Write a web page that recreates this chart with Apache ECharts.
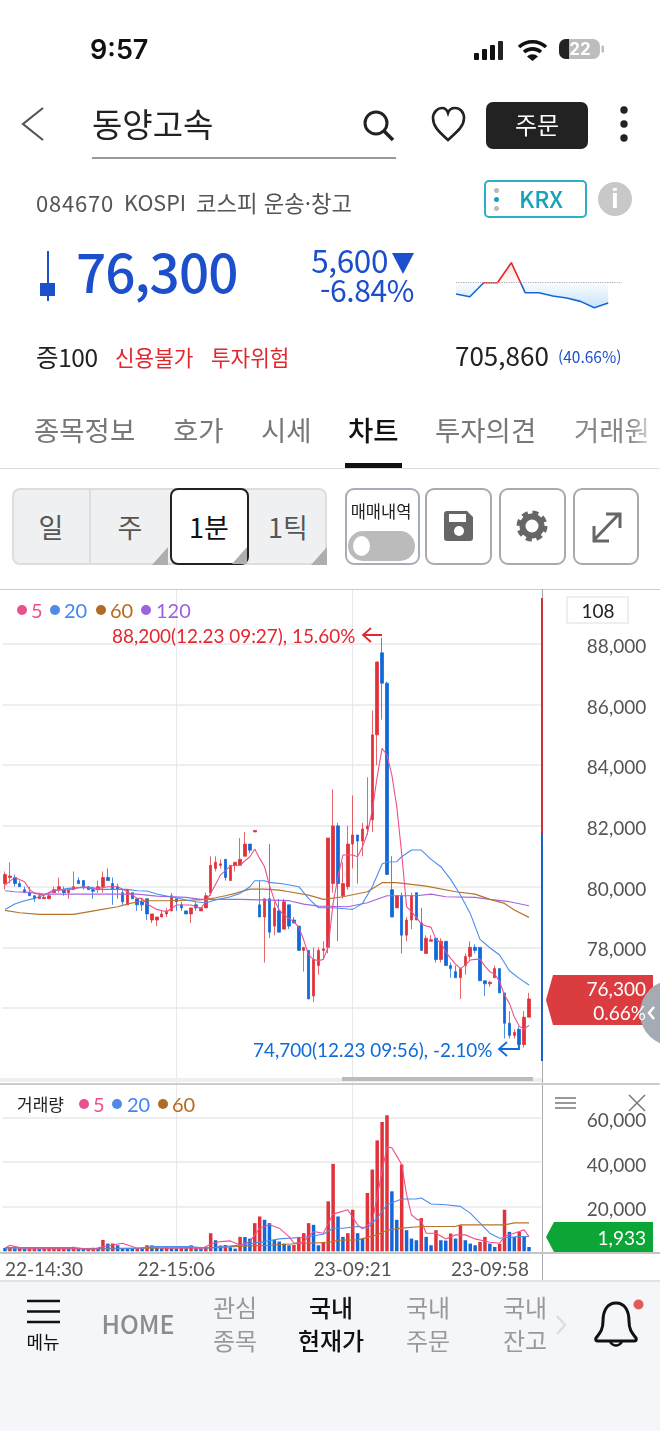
<!DOCTYPE html>
<html lang="ko">
<head>
<meta charset="utf-8">
<title>동양고속</title>
<script src="https://cdn.jsdelivr.net/npm/echarts@6/dist/echarts.min.js"></script>
<style>
html, body { margin: 0; padding: 0; background: #fff; }
#page { position: relative; width: 660px; height: 1431px; overflow: hidden; font-family: "Noto Sans CJK KR", sans-serif; }
#chart { position: absolute; left: 0; top: 0; width: 660px; height: 1431px; }
.t { position: absolute; white-space: nowrap; line-height: 1; transform: translateY(-50%); }
.r { transform: translate(-100%, -50%); }
.c { transform: translate(-50%, -50%); }
.n { font-family: Lato, sans-serif; }
.b { position: absolute; box-sizing: border-box; }
.btn { position: absolute; box-sizing: border-box; top: 488px; height: 77px; border: 2px solid #aaa; border-radius: 9px; background: #fff; }
svg { position: absolute; overflow: visible; }
.nav { font-size: 24px; color: #999; }
.dot { position: absolute; border-radius: 50%; width: 10px; height: 10px; transform: translate(-50%, -50%); }
</style>
</head>
<body>
<div id="page">
  <div class="b" style="left:0;top:1281px;width:660px;height:150px;background:#f5f6f9"></div>
  <div id="chart"></div>

  <!-- 상태바 -->
  <div class="t" style="left:90px;top:49px;font:600 27px Inter,sans-serif;color:#111">9:57</div>
  <svg style="left:0;top:0" width="660" height="80">
    <rect x="474" y="53" width="5" height="7" rx="1" fill="#111"/><rect x="482" y="49" width="5" height="11" rx="1" fill="#111"/>
    <rect x="490" y="45" width="5" height="15" rx="1" fill="#111"/><rect x="498" y="41" width="5" height="19" rx="1" fill="#222"/>
    <path d="M519 47a20 20 0 0 1 27 0M524 52a13 13 0 0 1 17 0" fill="none" stroke="#111" stroke-width="3.6"/>
    <path d="M527 56.500a8 8 0 0 1 11 0l-5.500 4.500z" fill="#111"/>
    <rect x="559" y="39" width="41" height="20" rx="7" fill="#bdbdbd"/><path d="M566 39h3v20h-3a7 7 0 0 1-7-7v-6a7 7 0 0 1 7-7z" fill="#222"/>
    <rect x="601.500" y="45.500" width="2.500" height="7" rx="1" fill="#bdbdbd"/>
    <text x="580" y="55" text-anchor="middle" font-family="Inter,sans-serif" font-weight="700" font-size="17" fill="#fff">22</text>
  </svg>

  <!-- 헤더 -->
  <svg style="left:0;top:0" width="660" height="170">
    <path d="M43 108L23 124L43 140" fill="none" stroke="#555" stroke-width="2.200"/>
    <circle cx="376" cy="123" r="11" fill="none" stroke="#222" stroke-width="3"/><path d="M384 131l9 9" stroke="#222" stroke-width="3.500"/>
    <path d="M448 140C438 131 433 126 433 118C433 112 438 108 442 108C445 108 447 110 448 113C449 110 451 108 455 108C460 108 464 112 464 118C464 126 458 131 448 140Z" fill="none" stroke="#222" stroke-width="2.600"/>
    <circle cx="624" cy="110" r="3.700" fill="#222"/><circle cx="624" cy="124" r="3.700" fill="#222"/><circle cx="624" cy="138" r="3.700" fill="#222"/>
  </svg>
  <div class="t" style="left:92px;top:123px;font-size:33px;color:#222">동양고속</div>
  <div class="b" style="left:92px;top:157px;width:304px;height:2px;background:#999"></div>
  <div class="b" style="left:486px;top:102px;width:102px;height:47px;background:#222;border-radius:7px"></div>
  <div class="t c" style="left:537px;top:124px;font-size:24px;color:#fff">주문</div>

  <!-- 종목 요약 -->
  <div class="t" style="left:36px;top:202px;font-size:22px;color:#555;letter-spacing:.8px">084670</div>
  <div class="t" style="left:124px;top:202px;font-size:21.500px;color:#555">KOSPI</div>
  <div class="t" style="left:196px;top:202px;font-size:22.300px;color:#555">코스피 운송·창고</div>
  <div class="b" style="left:484px;top:180px;width:103px;height:38px;border:2px solid #2cb0c4;border-radius:5px"></div>
  <div class="b" style="left:494px;top:188px;width:5px;height:5px;border-radius:50%;background:#bbb"></div>
  <div class="b" style="left:494px;top:197px;width:5px;height:5px;border-radius:50%;background:#17a2b8"></div>
  <div class="b" style="left:494px;top:206px;width:5px;height:5px;border-radius:50%;background:#bbb"></div>
  <div class="t c" style="left:541px;top:198px;font-size:23px;font-weight:500;color:#17a2b8">KRX</div>
  <div class="b" style="left:598px;top:182px;width:34px;height:34px;border-radius:50%;background:#c8c8c8"></div>
  <div class="t c" style="left:615px;top:199px;font:700 28px 'Liberation Sans',sans-serif;color:#fff">i</div>

  <div class="b" style="left:46.500px;top:251px;width:2px;height:50px;background:#1b4fcb"></div>
  <div class="b" style="left:40px;top:283px;width:15px;height:13px;background:#1b4fcb"></div>
  <div class="t" style="left:76px;top:270px;font-size:53px;font-weight:500;color:#1b4fcb;letter-spacing:-.9px">76,300</div>
  <div class="t r" style="left:388px;top:260px;font-size:31.500px;color:#1b4fcb;letter-spacing:-.4px">5,600</div>
  <svg style="left:0;top:0" width="660" height="300"><path d="M392 253H414L403 274Z" fill="#1b4fcb"/></svg>
  <div class="t r" style="left:414px;top:289px;font-size:30px;color:#1b4fcb;letter-spacing:-.4px">-6.84%</div>

  <div class="t" style="left:36px;top:357px;font-size:24.500px;color:#222;letter-spacing:-.4px">증100</div>
  <div class="t" style="left:115px;top:357px;font-size:21.300px;color:#e0282e">신용불가</div>
  <div class="t" style="left:211px;top:357px;font-size:21.300px;color:#e0282e">투자위험</div>
  <div class="t" style="left:455px;top:355px;font-size:26px;color:#222">705,860</div>
  <div class="t" style="left:558px;top:357px;font-size:15.500px;color:#1b4fcb">(40.66%)</div>

  <!-- 탭 -->
  <div class="t" style="left:34px;top:430px;font-size:27.500px;color:#777">종목정보</div>
  <div class="t" style="left:173px;top:430px;font-size:27.500px;color:#777">호가</div>
  <div class="t" style="left:261px;top:430px;font-size:27.500px;color:#777">시세</div>
  <div class="t" style="left:348px;top:430px;font-size:27.500px;color:#111;font-weight:500">차트</div>
  <div class="t" style="left:435px;top:430px;font-size:27.500px;color:#777">투자의견</div>
  <div class="t" style="left:574px;top:430px;font-size:27.500px;color:#888">거래원</div>
  <div class="b" style="left:630px;top:410px;width:30px;height:40px;background:linear-gradient(90deg,rgba(255,255,255,0),#fff)"></div>
  <div class="b" style="left:345px;top:463px;width:57px;height:5px;background:#111"></div>
  <div class="b" style="left:0;top:468px;width:660px;height:1px;background:#ddd"></div>

  <!-- 주기 버튼 -->
  <div class="b" style="left:12px;top:488px;width:315px;height:77px;background:#eef0f2;border:2px solid #ddd;border-radius:8px"></div>
  <div class="b" style="left:89px;top:489px;width:2px;height:75px;background:#ddd"></div>
  <div class="t c" style="left:51px;top:526px;font-size:27px;color:#555">일</div>
  <div class="t c" style="left:130px;top:526px;font-size:27px;color:#555">주</div>
  <div class="b" style="left:170px;top:488px;width:79px;height:77px;background:#fff;border:2px solid #222;border-radius:8px"></div>
  <div class="t c" style="left:209px;top:526px;font-size:27px;color:#111">1분</div>
  <div class="t c" style="left:288px;top:526px;font-size:27px;color:#555">1틱</div>
  <svg style="left:0;top:0" width="660" height="570">
    <path d="M168 547V565H152ZM247 547V564H232ZM327 547V565H311Z" fill="#aeaeae"/>
  </svg>
  <div class="btn" style="left:345px;width:75px;border-color:#a4adb8"></div>
  <div class="t c" style="left:381px;top:511px;font-size:16.500px;color:#222">매매내역</div>
  <div class="b" style="left:348px;top:531px;width:67px;height:30px;border-radius:15px;background:#bbb"></div>
  <div class="b" style="left:353px;top:536px;width:17px;height:20px;border-radius:50%;background:#fff"></div>
  <div class="btn" style="left:425px;width:67px"></div>
  <div class="btn" style="left:499px;width:67px"></div>
  <div class="btn" style="left:573px;width:66px"></div>
  <svg style="left:0;top:0" width="660" height="570">
    <path d="M447 511H467L473 517V538Q473 541 470 541H447Q444 541 444 538V514Q444 511 447 511Z" fill="#666"/>
    <rect x="449" y="514" width="17" height="8" fill="#fff"/><circle cx="459" cy="531" r="5" fill="#fff"/>
    <circle cx="532" cy="526" r="9.500" fill="none" stroke="#666" stroke-width="6"/>
    <circle cx="532" cy="526" r="13.500" fill="none" stroke="#666" stroke-width="4" stroke-dasharray="6 4.600"/>
    <path d="M594 540L619 514M606 514H620V528M594 526V541H609" fill="none" stroke="#666" stroke-width="3"/>
  </svg>

  <!-- 차트 틀 -->
  <div class="b" style="left:0;top:575px;width:660px;height:14px;background:#fff"></div>
  <div class="b" style="left:0;top:589px;width:660px;height:1px;background:#ccc"></div>
  <div class="b" style="left:175.700px;top:1068px;width:1.200px;height:6px;background:#e8e8e8"></div>
  <div class="b" style="left:352px;top:1068px;width:1.200px;height:6px;background:#e8e8e8"></div>
  <div class="b" style="left:542px;top:589px;width:1px;height:691px;background:#aaa"></div>
  <div class="b" style="left:541px;top:598px;width:2px;height:235px;background:#c9353a"></div>
  <div class="b" style="left:541px;top:833px;width:2px;height:228px;background:#1b5fc8"></div>
  <div class="b" style="left:566px;top:596px;width:63px;height:28px;border:2px solid #eee"></div>
  <div class="t c n" style="left:598px;top:610px;font-size:19px;color:#222">108</div>

  <div class="dot" style="left:22px;top:610px;background:#e8518f"></div><div class="t n" style="left:31px;top:610px;font-size:20px;color:#ee4f8e">5</div>
  <div class="dot" style="left:55px;top:610px;background:#4f8ae8"></div><div class="t n" style="left:64px;top:610px;font-size:20px;color:#4285f0">20</div>
  <div class="dot" style="left:101px;top:610px;background:#b06a28"></div><div class="t n" style="left:110px;top:610px;font-size:20px;color:#b8691f">60</div>
  <div class="dot" style="left:146px;top:610px;background:#9b64dc"></div><div class="t n" style="left:156px;top:610px;font-size:20px;color:#9b5fe0">120</div>

  <div class="t n" style="left:112px;top:636px;font-size:18.900px;color:#e0282e">88,200(12.23 09:27), 15.60%</div>
  <svg style="left:0;top:0" width="660" height="1100">
    <path d="M382 635H363M371 628L363 635L371 642" fill="none" stroke="#e0282e" stroke-width="1.800"/>
    <path d="M519 1040V1049H499M507 1042L499 1049L507 1056" fill="none" stroke="#0f6bd8" stroke-width="1.800"/>
  </svg>
  <div class="t n" style="left:253px;top:1050px;font-size:18.900px;color:#0f6bd8">74,700(12.23 09:56), -2.10%</div>

  <div class="b" style="left:0;top:1078px;width:542px;height:4px;background:#eee"></div>
  <div class="b" style="left:342px;top:1077px;width:191px;height:4px;background:#bbb"></div>
  <div class="b" style="left:0;top:1083px;width:660px;height:2px;background:#ccc"></div>

  <svg style="left:0;top:0" width="660" height="1100">
    <path d="M546 1000L553 975H653V1025H553Z" fill="#db3c40"/>
    <circle cx="673" cy="1013" r="33" fill="#a5abb3"/>
    <path d="M654 1007L649 1013L654 1019" fill="none" stroke="#fff" stroke-width="2.500"/>
  </svg>
  <div class="t r n" style="left:646px;top:988px;font-size:19px;color:#fff">76,300</div>
  <div class="t r n" style="left:646px;top:1012px;font-size:19px;color:#fff">0.66%</div>

  <!-- 거래량 -->
  <div class="t" style="left:17px;top:1103px;font-size:17px;color:#222">거래량</div>
  <div class="dot" style="left:84px;top:1104px;background:#e8518f"></div><div class="t n" style="left:93px;top:1104px;font-size:20px;color:#ee4f8e">5</div>
  <div class="dot" style="left:117px;top:1104px;background:#4f8ae8"></div><div class="t n" style="left:127px;top:1104px;font-size:20px;color:#4285f0">20</div>
  <div class="dot" style="left:163px;top:1104px;background:#b06a28"></div><div class="t n" style="left:172px;top:1104px;font-size:20px;color:#b8691f">60</div>
  <svg style="left:0;top:0" width="660" height="1120">
    <path d="M555 1098H576M555 1103H576M555 1108H576" stroke="#777" stroke-width="1.500"/>
    <path d="M629 1095L645 1111M645 1095L629 1111" stroke="#777" stroke-width="1.500"/>
  </svg>
  <svg style="left:0;top:0" width="660" height="1260">
    <path d="M546 1237L554 1222H653V1252H554Z" fill="#0ca636"/>
  </svg>
  <div class="t r n" style="left:646px;top:1237px;font-size:19px;color:#fff">1,933</div>
  <div class="b" style="left:0;top:1252px;width:660px;height:2px;background:#c4c4c4"></div>
  <div class="b" style="left:0;top:1280px;width:660px;height:2px;background:#e2e2e2"></div>

  <!-- 하단 메뉴 -->
  <svg style="left:0;top:0" width="660" height="1431">
    <path d="M27 1301H60M27 1311.500H60M27 1322H60" stroke="#111" stroke-width="2.400"/>
    <path d="M616 1303C607 1303 603 1311 603 1321C603 1330 600 1333 596 1338C595 1340 596 1341 598 1341H634C636 1341 637 1340 636 1338C632 1333 629 1330 629 1321C629 1311 625 1303 616 1303Z" fill="none" stroke="#111" stroke-width="3"/>
    <path d="M610 1342Q616 1349 622 1342" fill="none" stroke="#111" stroke-width="2.500"/>
    <circle cx="638.500" cy="1304.500" r="5" fill="#e05a5a"/>
    <path d="M557 1316L565 1325L557 1334" fill="none" stroke="#ddd" stroke-width="2.500"/>
  </svg>
  <div class="t c" style="left:43px;top:1341px;font-size:18px;color:#111">메뉴</div>
  <div class="t c" style="left:138px;top:1323px;font-size:25px;font-weight:500;color:#8c8c8c">HOME</div>
  <div class="t c nav" style="left:235px;top:1307px">관심</div><div class="t c nav" style="left:235px;top:1340px">종목</div>
  <div class="t c nav" style="left:331px;top:1307px;color:#111;font-weight:500">국내</div><div class="t c nav" style="left:331px;top:1340px;color:#111;font-weight:500">현재가</div>
  <div class="t c nav" style="left:428px;top:1307px">국내</div><div class="t c nav" style="left:428px;top:1340px">주문</div>
  <div class="t c nav" style="left:525px;top:1307px">국내</div><div class="t c nav" style="left:525px;top:1340px">잔고</div>
</div>

<script>
// 캔들 (1분봉 108개)
const opens = [80100,80300,80300,80100,79900,79800,79700,79600,79600,79600,79800,79900,79900,79800,79900,80200,80200,80000,79900,79900,80000,80300,80100,80000,79800,79400,79800,79600,79500,79600,78900,78900,79000,79100,79200,79600,79400,79200,79100,79400,79200,79300,79800,80600,80700,80900,80200,80700,80700,81000,81400,81800,79400,79000,79600,78700,79200,78600,79400,78900,78700,77900,77900,76400,77400,77900,78000,80100,82000,79700,80000,81400,81700,81500,81900,82200,85000,87700,86700,79900,79300,79700,78400,78900,79800,78800,77800,78200,78300,77600,78200,77400,77200,77000,77400,77700,78000,78000,76900,76800,77000,77300,76500,75500,75100,75300,74800,75700];
const closes = [80400,80350,80100,80000,79800,79700,79600,79700,79650,79700,79900,80000,79800,79900,80000,80100,80000,79900,79850,80000,80300,80200,79900,79900,79500,79900,79600,79400,79400,79100,79100,79000,79100,79200,79700,79500,79300,79100,79300,79300,79300,79700,80700,80800,80750,80300,80700,80800,80900,81400,81200,81850,79000,79600,78500,79300,78500,79500,78700,78800,77900,78000,76300,77600,77900,77950,81600,82000,80100,80100,81400,81700,81500,81900,82000,85000,87400,86700,80400,79000,79700,78400,78900,79700,78900,77900,78300,78250,77600,78200,77400,77300,77000,77300,77700,78000,77900,76900,76800,76850,77300,76500,75500,75100,75200,74800,75700,76300];
const highs = [80500,80800,80400,80200,80000,80000,79700,79800,79700,79800,80000,80300,80000,79900,80500,80300,80200,80000,80000,80200,80500,80600,80300,80100,79900,79900,79800,79600,79600,79600,79100,79000,79200,79300,79800,79600,79500,79200,79300,79500,79300,79800,81000,81000,80900,80900,80700,80800,81600,81800,81400,81850,80200,79600,81400,79500,79600,79600,79400,79000,78700,78000,77900,78000,78000,78200,81600,83200,82100,80800,82000,83000,81700,82100,83600,85800,87400,88200,86750,81000,79700,79800,79000,79800,79800,79300,78400,78400,78300,78300,78200,77500,77400,77300,77800,78200,78100,78000,76900,76900,77400,77300,76500,75900,75300,75400,75900,76500];
const lows = [79900,80100,80000,80000,79800,79700,79500,79600,79600,79600,79800,79800,79700,79600,79900,80100,79900,79900,79600,79800,79800,80200,79400,79600,79400,79400,79600,79200,79200,78900,78800,78700,79000,79000,79200,79200,79200,79100,78800,79200,79200,79300,79700,80500,80600,80200,80200,80500,80700,81000,81100,81800,79000,77500,78300,78400,78500,78600,78600,78800,77900,77200,76300,76200,77100,77600,77800,79800,78200,79600,79900,80600,80100,81000,81700,81800,84000,85500,80400,79000,79300,77800,78200,78600,78900,77900,77800,78200,77500,77500,77400,77000,77000,76300,77100,77600,77800,76900,76400,76700,77000,76500,75000,75000,75000,74700,74700,75700];

// 거래량
const volumes = [1500,1600,1400,1500,1300,1400,1450,1300,1400,1450,1500,1550,1600,1400,2000,1500,1400,1500,1550,1200,5100,3450,3500,2700,1300,1250,1200,1400,1250,2700,2650,1500,1400,1700,1400,1300,1500,1350,2700,1400,1300,1800,8100,4950,2600,2850,1800,1200,6450,6400,5700,12600,15600,14100,12600,5100,4350,3450,2700,2850,6450,8100,12600,11850,2700,4200,22350,39150,15600,6450,8100,18600,8100,5700,26100,36600,49650,57900,60900,26850,14100,38850,9450,5700,4950,14850,6450,2700,9450,4950,4800,7950,5700,11700,4950,3450,2700,4200,6450,3450,1950,3300,18600,8700,6450,8700,6450,1933];

// 가격 이동평균 [봉 번호, 값]
const ma5Points = [[0,80051],[2,80304],[4,80161],[5,79909],[6,79777],[8,79722],[10,79887],[13,79887],[16,79996],[19,79941],[21,79996],[23,79996],[25,79832],[27,79612],[28,79612],[29,79425],[31,79250],[33,79173],[35,79393],[38,79393],[40,79283],[41,79502],[42,79777],[44,80381],[46,80677],[48,80710],[50,80985],[51,81237],[52,80930],[53,80655],[54,80051],[55,79557],[56,79228],[57,79063],[58,78954],[59,78844],[60,78657],[61,78240],[62,77746],[63,77603],[64,77559],[65,77603],[66,78020],[67,79448],[68,80326],[69,81040],[70,81040],[71,81040],[72,80985],[73,81315],[74,81754],[75,82522],[76,83620],[77,84554],[78,84334],[79,83675],[80,82632],[81,81095],[82,79338],[83,79173],[84,78987],[85,78767],[86,78701],[87,78657],[88,78262],[89,78152],[90,77856],[91,77636],[92,77449],[93,77307],[94,77416],[95,77581],[96,77603],[97,77603],[98,77384],[99,77197],[100,77120],[101,76868],[102,76428],[103,76154],[104,75715],[105,75407],[106,75297],[107,75440]];
const ma20Points = [[0,79250],[2,79425],[4,79535],[6,79612],[8,79722],[10,79865],[13,79941],[16,79974],[19,79909],[22,79909],[25,79909],[27,79865],[29,79854],[31,79755],[33,79689],[35,79634],[37,79557],[39,79502],[41,79469],[43,79557],[46,79667],[48,79777],[50,79996],[51,80194],[53,80194],[54,80139],[57,80085],[60,79997],[62,79602],[64,79305],[67,79305],[70,79261],[71,79250],[73,79448],[75,79997],[77,80743],[78,80809],[80,80820],[81,80985],[83,81205],[85,81205],[87,80897],[89,80656],[91,80238],[93,79722],[95,79118],[97,78262],[99,77987],[101,77746],[103,77230],[105,76977],[107,76758]];
const ma60Points = [[0,79217],[3,79140],[7,79085],[14,79085],[19,79228],[23,79338],[25,79425],[28,79535],[33,79535],[38,79557],[41,79579],[43,79634],[45,79700],[47,79777],[50,79920],[53,79920],[56,79887],[58,79832],[62,79722],[65,79580],[69,79667],[74,79832],[77,80129],[80,80129],[86,80019],[92,79832],[96,79755],[99,79580],[102,79448],[104,79228],[107,78987]];
const ma120Points = [[0,79865],[2,79832],[5,79810],[8,79755],[13,79755],[22,79755],[27,79755],[31,79689],[37,79645],[40,79579],[43,79579],[48,79579],[54,79557],[58,79536],[61,79426],[64,79360],[70,79338],[74,79470],[78,79700],[84,79700],[87,79755],[90,79667],[96,79645],[99,79580],[103,79503],[107,79371]];

// 거래량 이동평균 [봉 번호, 값]
const volMa5Points = [[0,1350],[1,2700],[3,1650],[5,1350],[14,1350],[18,900],[20,2100],[22,2850],[24,3600],[27,1350],[29,1800],[33,1350],[38,1650],[40,1050],[42,3150],[44,4350],[46,4650],[48,2850],[50,4350],[52,10350],[54,11850],[56,10350],[58,6600],[59,3600],[61,4350],[63,8850],[65,8100],[67,16650],[70,18600],[72,11850],[73,10050],[75,13350],[77,35850],[78,46650],[79,46350],[80,42600],[81,38850],[82,25350],[83,16350],[84,14400],[85,13650],[86,8100],[88,8100],[90,5550],[92,7350],[94,7350],[96,5550],[99,4050],[101,3600],[102,6600],[105,8850],[106,9600],[107,6600]];
const volMa20Points = [[0,1050],[20,1050],[28,1350],[30,2100],[38,2100],[41,1350],[45,2100],[48,2850],[53,4350],[56,5550],[61,6300],[65,7650],[67,10350],[69,10350],[72,11100],[74,10350],[76,14850],[78,20850],[81,23400],[84,23400],[85,23850],[87,21150],[90,20850],[93,20100],[95,17100],[97,12600],[99,8100],[101,5850],[105,6600],[107,6600]];
const volMa60Points = [[0,1650],[14,1650],[16,1200],[42,1650],[50,2400],[54,2700],[61,3600],[66,3900],[68,4950],[72,5100],[76,7350],[78,9450],[81,10350],[85,11100],[92,11100],[93,11850],[102,11850],[104,12750],[107,12750]];

// 현재가 미니 차트
const sparkValues = [80200,79800,81900,81900,84900,80400,80400,79900,79600,79100,78150,78850];
const sparkBase = 81900;

// 축 라벨
const slotCount = 110;
const tickSlots = [0, 35, 71, 107];
const tickLabels = ["22-14:30", "22-15:06", "23-09:21", "23-09:58"];
const gridSlots = [35, 71];

const RED = "#e03238";
const BLUE = "#1268d8";

const categories = new Array(slotCount).fill("");
tickSlots.forEach((slot, k) => { categories[slot] = tickLabels[k]; });
const candleData = opens.map((o, i) => [o, closes[i], lows[i], highs[i]]);
const barData = volumes.map((v, i) => ({
    value: v,
    itemStyle: { color: i > 0 && v >= volumes[i - 1] ? RED : BLUE }
}));

function isGridSlot(index) {
    return gridSlots.indexOf(index) >= 0;
}

function maLine(name, data, color, xi, width) {
    return {
        name: name, type: "line", xAxisIndex: xi, yAxisIndex: xi, data: data,
        showSymbol: false, symbol: "none", smooth: false, clip: false,
        lineStyle: { color: color, width: width }, z: 5
    };
}

// 눈금 라벨을 선보다 살짝 아래에 그린다
function priceLabel(topPad) {
    return {
        margin: 105, align: "right", showMinLabel: false, showMaxLabel: false,
        formatter: (v) => "{a|" + v.toLocaleString("en-US") + "}",
        rich: { a: { padding: [topPad, 0, 0, 0], color: "#555", fontFamily: "Lato", fontSize: 19 } }
    };
}

const sparkStop = 32.7 / 60;
const chart = echarts.init(document.getElementById("chart"), null, { renderer: "canvas" });
chart.setOption({
    animation: false,
    backgroundColor: "transparent",
    grid: [
        { left: 2.55, width: 538.7, top: 583, height: 485.8 },
        { left: 2.55, width: 538.7, top: 1072.6, height: 178.7 },
        { left: 456, width: 166, top: 250, height: 60 }
    ],
    xAxis: [
        {
            type: "category", gridIndex: 0, data: categories,
            axisLine: { show: false }, axisTick: { show: false, alignWithLabel: true }, axisLabel: { show: false },
            splitLine: { show: true, alignWithLabel: true, interval: isGridSlot, lineStyle: { color: "#e8e8e8", width: 1.2 } }
        },
        {
            type: "category", gridIndex: 1, data: categories,
            axisLine: { show: false }, axisTick: { show: false, alignWithLabel: true },
            axisLabel: {
                show: true, interval: (index) => categories[index] !== "", margin: 9,
                alignMinLabel: "left", alignMaxLabel: "right",
                color: "#555", fontFamily: "Lato", fontSize: 19
            },
            splitLine: { show: true, alignWithLabel: true, interval: isGridSlot, lineStyle: { color: "#e8e8e8", width: 1.2 } }
        },
        { type: "category", gridIndex: 2, data: sparkValues.map((v, i) => i).concat([""]), boundaryGap: false, show: false }
    ],
    yAxis: [
        {
            type: "value", gridIndex: 0, position: "right", min: 74000, max: 90000, interval: 2000,
            axisLine: { show: false }, axisTick: { show: false },
            axisLabel: priceLabel(6),
            splitLine: { show: true, showMinLine: false, showMaxLine: false, lineStyle: { color: "#e8e8e8", width: 1.5 } }
        },
        {
            type: "value", gridIndex: 1, position: "right", min: 0, max: 80000, interval: 20000,
            axisLine: { show: false }, axisTick: { show: false },
            axisLabel: priceLabel(7),
            splitLine: { show: true, showMinLine: false, showMaxLine: false, lineStyle: { color: "#e8e8e8", width: 1.5 } }
        },
        { type: "value", gridIndex: 2, min: 77805, max: 86805, show: false }
    ],
    series: [
        {
            name: "캔들", type: "candlestick", xAxisIndex: 0, yAxisIndex: 0, data: candleData,
            barWidth: 3, z: 3,
            itemStyle: {
                color: RED, color0: BLUE,
                borderColor: "rgba(224,50,56,0.75)", borderColor0: "rgba(18,104,216,0.75)", borderWidth: 1
            }
        },
        maLine("120", ma120Points, "#a566e0", 0, 1.2),
        maLine("60", ma60Points, "#b8732c", 0, 1.2),
        maLine("20", ma20Points, "#4a8cf0", 0, 1.1),
        maLine("5", ma5Points, "#ee4f8e", 0, 1.1),
        {
            name: "거래량", type: "bar", xAxisIndex: 1, yAxisIndex: 1, data: barData,
            barWidth: 3.5, z: 3
        },
        maLine("vol60", volMa60Points, "#b8732c", 1, 1.2),
        maLine("vol20", volMa20Points, "#4a8cf0", 1, 1.1),
        maLine("vol5", volMa5Points, "#ee4f8e", 1, 1.1),
        {
            name: "미니", type: "line", xAxisIndex: 2, yAxisIndex: 2, data: sparkValues,
            showSymbol: false, symbol: "none",
            lineStyle: {
                width: 1.6,
                color: new echarts.graphic.LinearGradient(0, 250, 0, 310, [
                    { offset: 0, color: "#e0282e" }, { offset: sparkStop, color: "#e0282e" },
                    { offset: sparkStop, color: "#1268d8" }, { offset: 1, color: "#1268d8" }
                ], true)
            },
            areaStyle: {
                origin: sparkBase,
                color: new echarts.graphic.LinearGradient(0, 250, 0, 310, [
                    { offset: 0, color: "rgba(224,40,46,0.3)" }, { offset: sparkStop, color: "rgba(224,40,46,0.04)" },
                    { offset: sparkStop, color: "rgba(70,160,235,0.04)" }, { offset: 1, color: "rgba(70,160,235,0.45)" }
                ], true)
            },
            markLine: {
                silent: true, symbol: "none", label: { show: false },
                lineStyle: { type: "dotted", color: "#aaa", width: 1.2 },
                data: [{ yAxis: sparkBase }]
            }
        }
    ]
});
</script>
</body>
</html>
